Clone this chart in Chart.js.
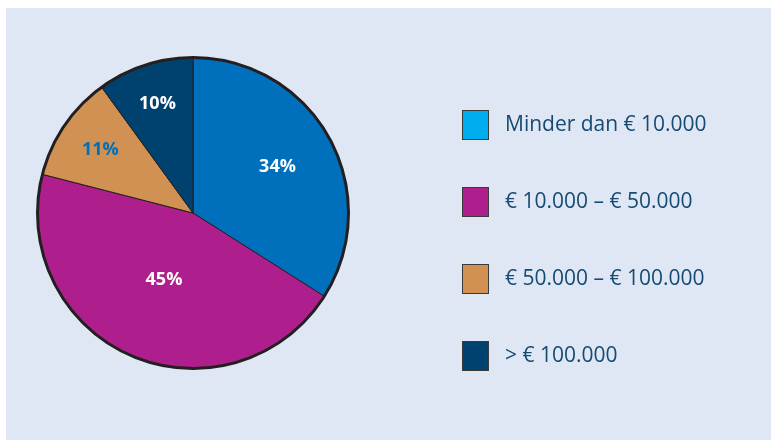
<!DOCTYPE html>
<html>
<head>
<meta charset="utf-8">
<script src="https://cdn.jsdelivr.net/npm/chart.js@4"></script>
<style>
  html, body { margin: 0; padding: 0; background: #ffffff; }
  #wrap { position: absolute; left: 6px; top: 8px; width: 765px; height: 432px; background: #e0e7f4; }
  #c { position: absolute; left: 0; top: 0; }
</style>
</head>
<body>
<div id="wrap"><canvas id="c" width="765" height="432"></canvas></div>
<script>
// data
const categories = ['Minder dan € 10.000', '€ 10.000 – € 50.000', '€ 50.000 – € 100.000', '> € 100.000'];
const shares = [34, 45, 11, 10];
const sliceColors = ['#0070bc', '#ae1e8c', '#d09152', '#00426f'];
const legendColors = ['#00aeef', '#ae1e8c', '#d09152', '#00426f'];
const labelColors = ['#ffffff', '#ffffff', '#0070bc', '#ffffff'];
const labelRadius = [0.62, 0.47, 0.72, 0.74]; // fraction of outer radius

const pctLabels = {
    id: 'pctLabels',
    afterDatasetsDraw(chart) {
        const { ctx } = chart;
        const meta = chart.getDatasetMeta(0);
        // thicker outer rim
        const a0 = meta.data[0];
        ctx.save();
        ctx.beginPath();
        ctx.arc(a0.x, a0.y, a0.outerRadius, 0, Math.PI * 2);
        ctx.lineWidth = 3;
        ctx.strokeStyle = '#231f20';
        ctx.stroke();

        ctx.font = 'bold 18px "Open Sans"';
        ctx.textAlign = 'center';
        ctx.textBaseline = 'middle';
        meta.data.forEach((arc, i) => {
            const mid = (arc.startAngle + arc.endAngle) / 2;
            const r = arc.outerRadius * labelRadius[i];
            ctx.fillStyle = labelColors[i];
            ctx.fillText(shares[i] + '%', arc.x + Math.cos(mid) * r, arc.y + Math.sin(mid) * r);
        });
        ctx.restore();
    }
};

const sideLegend = {
    id: 'sideLegend',
    afterDraw(chart) {
        const { ctx } = chart;
        ctx.save();
        ctx.font = '21px "Open Sans"';
        ctx.textBaseline = 'middle';
        categories.forEach((label, i) => {
            const y = 117 + i * 77;
            ctx.fillStyle = legendColors[i];
            ctx.fillRect(456, y - 15, 27, 30);
            ctx.lineWidth = 1;
            ctx.strokeStyle = '#3a3a3a';
            ctx.strokeRect(456.5, y - 14.5, 26, 29);
            ctx.fillStyle = '#154a73';
            ctx.fillText(label, 499, y);
        });
        ctx.restore();
    }
};

new Chart(document.getElementById('c'), {
    type: 'pie',
    data: {
        labels: categories,
        datasets: [{ data: shares, backgroundColor: sliceColors, borderColor: '#231f20', borderWidth: 1 }]
    },
    plugins: [pctLabels, sideLegend],
    options: {
        responsive: false,
        animation: false,
        layout: { padding: { left: 31, top: 49, right: 422, bottom: 71 } },
        plugins: { legend: { display: false }, tooltip: { enabled: false } }
    }
});
</script>
</body>
</html>
